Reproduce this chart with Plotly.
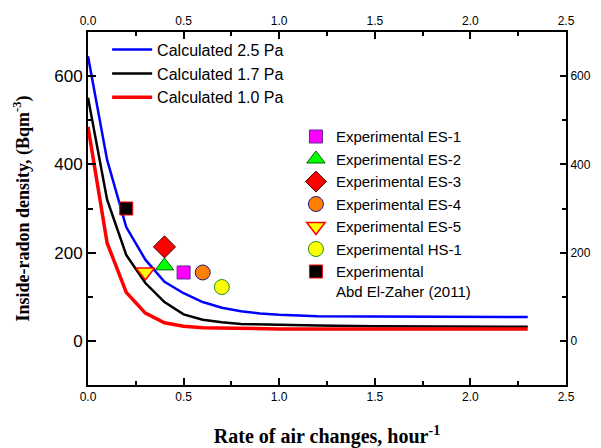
import plotly.graph_objects as go

# ---- data ----
x_calc = [0, 0.1, 0.2, 0.3, 0.4, 0.5, 0.6, 0.7, 0.8, 0.9, 1.0, 1.2, 1.5, 2.0, 2.3]
calc_25 = [645, 410, 258, 184, 134, 108, 88, 75, 67, 62, 59, 56, 55, 54, 54]
calc_17 = [551, 320, 195, 131, 88, 60, 48, 42, 38, 37, 36, 35, 33, 32, 32]
calc_10 = [485, 222, 110, 63, 41, 33, 30, 29, 28, 28, 27, 27, 27, 27, 27]

exp_names = ["Experimental ES-1", "Experimental ES-2", "Experimental ES-3",
             "Experimental ES-4", "Experimental ES-5", "Experimental HS-1",
             "Experimental<br>Abd El-Zaher (2011)"]
exp_x = [0.5, 0.4, 0.4, 0.6, 0.3, 0.7, 0.2]
exp_y = [155, 170, 213, 155, 156, 122, 300]

x_ticks = [0.0, 0.5, 1.0, 1.5, 2.0, 2.5]
y_ticks = [0, 200, 400, 600]

# ---- styles ----
exp_styles = [
    dict(symbol="square", color="#FF00FF", line=dict(color="#5A2A8A", width=1), size=13),
    dict(symbol="triangle-up", color="#00FF00", line=dict(color="#006400", width=1), size=16),
    dict(symbol="diamond", color="#FF0000", line=dict(color="#400000", width=1), size=17),
    dict(symbol="circle", color="#FF8000", line=dict(color="#1A1A80", width=1), size=15),
    dict(symbol="triangle-down", color="#FFFF00", line=dict(color="#FF0000", width=1.5), size=16),
    dict(symbol="circle", color="#FFFF00", line=dict(color="#228B22", width=1), size=15),
    dict(symbol="square", color="#000000", line=dict(color="#FF0000", width=1), size=13),
]

fig = go.Figure()

fig.add_trace(go.Scatter(x=x_calc, y=calc_25, mode="lines", name="Calculated 2.5 Pa",
                         line=dict(color="#0000FF", width=2.5), legend="legend"))
fig.add_trace(go.Scatter(x=x_calc, y=calc_17, mode="lines", name="Calculated 1.7 Pa",
                         line=dict(color="#000000", width=2.5), legend="legend"))
fig.add_trace(go.Scatter(x=x_calc, y=calc_10, mode="lines", name="Calculated 1.0 Pa",
                         line=dict(color="#FF0000", width=3.5), legend="legend",
                         xaxis="x2", yaxis="y2"))

for name, xv, yv, st in zip(exp_names, exp_x, exp_y, exp_styles):
    fig.add_trace(go.Scatter(x=[xv], y=[yv], mode="markers", name=name,
                             marker=st, legend="legend2"))

font_sans = "Liberation Sans, Arial, sans-serif"
font_serif = "Liberation Serif, Times New Roman, serif"

ax_common = dict(showline=True, linecolor="black", linewidth=2, ticks="inside",
                 tickcolor="black", tickwidth=1.5, showgrid=False, zeroline=False,
                 automargin=False)

fig.update_layout(
    width=601, height=448,
    margin=dict(l=88, r=35, t=32, b=63),
    paper_bgcolor="white", plot_bgcolor="white",
    font=dict(family=font_sans, color="black"),
    xaxis=dict(range=[0, 2.5], tickvals=x_ticks, ticktext=[f"{v:.1f}" for v in x_ticks],
               ticklen=7, tickfont=dict(size=12),
               minor=dict(ticks="inside", ticklen=4, dtick=0.25, tickcolor="black", tickwidth=1.5),
               title=dict(text="<b>Rate of air changes, hour<sup>-1</sup></b>",
                          font=dict(family=font_serif, size=20), standoff=26),
               **ax_common),
    xaxis2=dict(range=[0, 2.5], overlaying="x", side="top", anchor="y",
                tickvals=x_ticks, ticktext=[f"{v:.1f}" for v in x_ticks],
                ticklen=7, tickfont=dict(size=12),
                minor=dict(ticks="inside", ticklen=4, dtick=0.25, tickcolor="black", tickwidth=1.5),
                **ax_common),
    yaxis=dict(range=[-100, 700], tickvals=y_ticks, ticktext=[str(v) for v in y_ticks],
               ticklen=8, tickfont=dict(size=17),
               minor=dict(ticks="inside", ticklen=5, dtick=100, tickcolor="black", tickwidth=1.5),
               title=dict(text="<b>Inside-radon density, (Bqm<sup>-3</sup>)</b>",
                          font=dict(family=font_serif, size=18), standoff=20),
               **ax_common),
    yaxis2=dict(range=[-100, 700], overlaying="y", side="right", anchor="x",
                tickvals=y_ticks, ticktext=[str(v) for v in y_ticks],
                ticklen=6, tickfont=dict(size=12),
                minor=dict(ticks="inside", ticklen=4, dtick=100, tickcolor="black", tickwidth=1.5),
                **ax_common),
    legend=dict(x=0.04, y=0.998, xanchor="left", yanchor="top", bgcolor="rgba(0,0,0,0)",
                font=dict(size=16), tracegroupgap=0, itemwidth=40),
    legend2=dict(x=0.435, y=0.75, xanchor="left", yanchor="top", bgcolor="rgba(0,0,0,0)",
                 font=dict(size=15), valign="top", tracegroupgap=0),
    showlegend=True,
)

fig.write_html("out.html")
